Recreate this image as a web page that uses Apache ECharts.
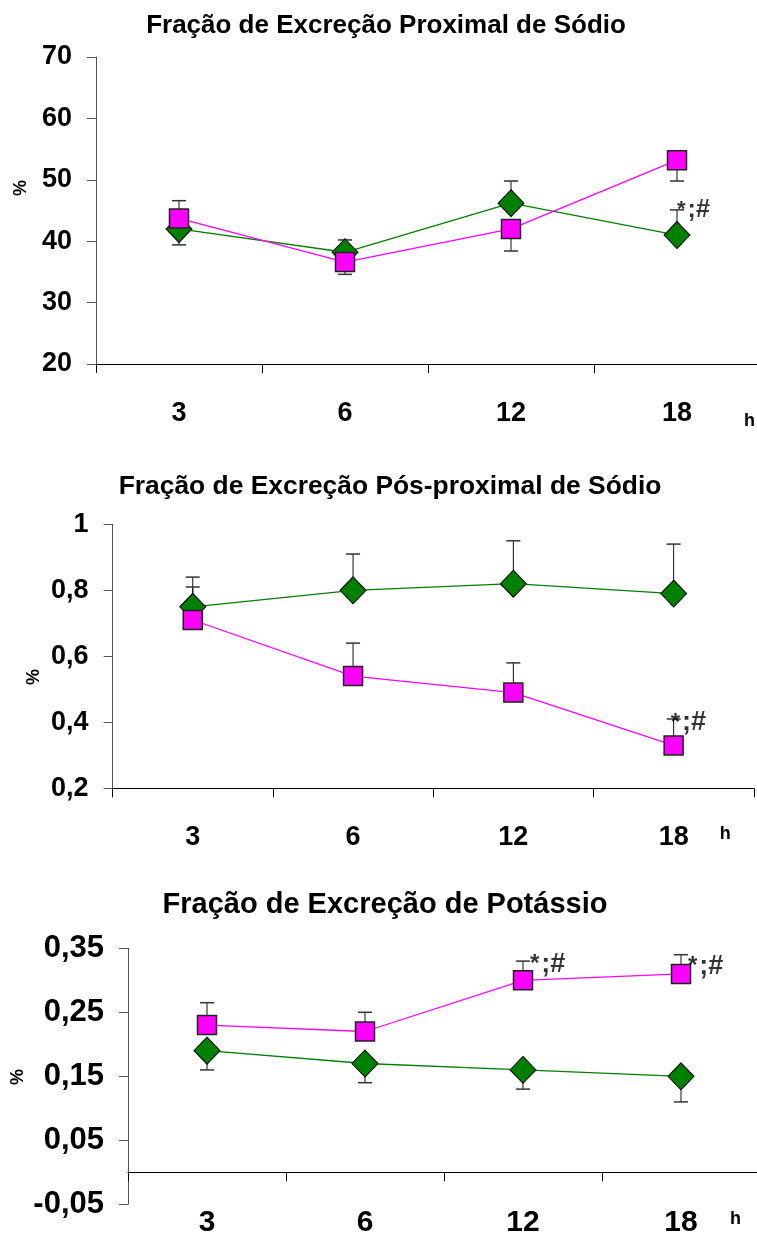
<!DOCTYPE html>
<html>
<head>
<meta charset="utf-8">
<script src="https://cdn.jsdelivr.net/npm/echarts@6/dist/echarts.min.js"></script>
<style>
html,body{margin:0;padding:0;background:#fff;}
#c{width:757px;height:1234px;}
</style>
</head>
<body>
<div id="c"></div>
<script>
// ---- data ----
const categories = ['3', '6', '12', '18'];

// Chart 1: Fração de Excreção Proximal de Sódio
const proxGreen = [42.0, 38.2, 46.2, 41.0];
const proxPink = [43.7, 36.6, 42.0, 53.2];
const proxGreenErr = [39.4, 40.2, 49.8, 45.1];
const proxPinkErr = [46.6, 34.6, 38.4, 49.8];
const proxAnnot = [['18', 45.1]];

// Chart 2: Fração de Excreção Pós-proximal de Sódio
const posGreen = [0.75, 0.80, 0.82, 0.79];
const posPink = [0.71, 0.54, 0.49, 0.33];
const posGreenErr = [0.84, 0.91, 0.95, 0.94];
const posPinkErr = [0.81, 0.64, 0.58, 0.41];
const posAnnot = [['18', 0.398]];

// Chart 3: Fração de Excreção de Potássio
const kGreen = [0.19, 0.17, 0.16, 0.15];
const kPink = [0.23, 0.22, 0.30, 0.31];
const kGreenErr = [0.16, 0.14, 0.13, 0.11];
const kPinkErr = [0.265, 0.25, 0.33, 0.34];
const kAnnot = [['12', 0.325], ['18', 0.322]];
const kTicks = [-0.05, 0.05, 0.15, 0.25, 0.35];

const titles = ['Fração de Excreção Proximal de Sódio', 'Fração de Excreção Pós-proximal de Sódio', 'Fração de Excreção de Potássio'];
const annotStar = '*';
const annotRest = ';#';
const unitY = '%';
const unitX = 'h';

// ---- styling ----
const FF = '"Liberation Sans", Arial, sans-serif';
const GREEN = '#008000';
const PINK = '#FF00FF';

const chart = echarts.init(document.getElementById('c'), null, {renderer: 'canvas'});

function errSeries(gi, vals, errs, name) {
  return {
    type: 'custom', name: name, xAxisIndex: gi, yAxisIndex: gi, z: 1, silent: true,
    data: vals.map((v, i) => [i, v, errs[i]]),
    encode: {x: 0, y: [1, 2]},
    renderItem: function (params, api) {
      const p = api.coord([api.value(0), api.value(1)]);
      const e = api.coord([api.value(0), api.value(2)]);
      return {
        type: 'group',
        children: [
          {type: 'line', shape: {x1: p[0], y1: p[1], x2: e[0], y2: e[1]}, style: {stroke: '#111', lineWidth: 1}},
          {type: 'line', shape: {x1: e[0] - 7, y1: e[1], x2: e[0] + 7, y2: e[1]}, style: {stroke: '#333', lineWidth: 1.5}}
        ]
      };
    }
  };
}
function greenSeries(gi, vals) {
  return {
    type: 'line', xAxisIndex: gi, yAxisIndex: gi, z: 2, data: vals,
    symbol: 'diamond', symbolSize: [26, 27],
    itemStyle: {color: GREEN, borderColor: '#000', borderWidth: 1},
    lineStyle: {color: GREEN, width: 1.3}
  };
}
function pinkSeries(gi, vals) {
  return {
    type: 'line', xAxisIndex: gi, yAxisIndex: gi, z: 3, data: vals,
    symbol: 'rect', symbolSize: 19,
    itemStyle: {color: PINK, borderColor: '#222', borderWidth: 1.5},
    lineStyle: {color: PINK, width: 1.3}
  };
}
function annotSeries(gi, pts, dx, fs) {
  return {
    type: 'scatter', xAxisIndex: gi, yAxisIndex: gi, z: 5, data: pts,
    symbolSize: 1, itemStyle: {color: 'rgba(0,0,0,0)'}, silent: true,
    label: {
      show: true, position: 'inside', align: 'left', verticalAlign: 'middle', offset: [dx, 0],
      formatter: '{s|' + annotStar + '}{r|' + annotRest + '}',
      rich: {
        s: {fontFamily: FF, fontWeight: 'bold', fontSize: fs, color: '#000', padding: [0, 2, 0, 0]},
        r: {fontFamily: FF, fontWeight: 'bold', fontSize: fs + 3, color: '#000'}
      }
    }
  };
}

const grids = [
  {left: 96, top: 57, width: 664, height: 307, outerBoundsMode: 'none', containLabel: false},
  {left: 112.6, top: 524.3, width: 641.2, height: 264, outerBoundsMode: 'none', containLabel: false},
  {left: 128, top: 948.3, width: 632, height: 256, outerBoundsMode: 'none', containLabel: false}
];

function xAxis(gi, margin, nameGap, namePad, fs, lh) {
  return {
    type: 'category', gridIndex: gi, data: categories, boundaryGap: true,
    axisLine: {show: true, onZero: true, lineStyle: {color: '#000', width: 1}},
    axisTick: {show: true, length: 9, inside: false, lineStyle: {color: '#000'}},
    axisLabel: {margin: margin, fontFamily: FF, fontWeight: 'bold', fontSize: fs, lineHeight: lh, color: '#000', interval: 0, hideOverlap: false},
    splitLine: {show: false},
    name: unitX, nameLocation: 'end', nameGap: nameGap, nameMoveOverlap: false,
    nameTextStyle: {fontFamily: FF, fontWeight: 'bold', fontSize: 18, color: '#000', align: 'left', verticalAlign: 'top', padding: [namePad, 0, 0, 0]}
  };
}
const yBase = {
  type: 'value',
  axisLine: {show: true, lineStyle: {color: '#555', width: 1}},
  axisTick: {show: true, length: 9, inside: false, lineStyle: {color: '#555'}},
  splitLine: {show: false}
};
function yLabel(fs) {
  return {margin: 24, fontFamily: FF, fontWeight: 'bold', fontSize: fs, color: '#000'};
}

const option = {
  animation: false,
  backgroundColor: '#fff',
  title: [
    {text: titles[0], left: 381, top: 8, textAlign: 'center', textStyle: {fontFamily: FF, fontWeight: 'bold', fontSize: 26, color: '#000'}},
    {text: titles[1], left: 385, top: 469, textAlign: 'center', textStyle: {fontFamily: FF, fontWeight: 'bold', fontSize: 26.4, color: '#000'}},
    {text: titles[2], left: 380, top: 885, textAlign: 'center', textStyle: {fontFamily: FF, fontWeight: 'bold', fontSize: 29, color: '#000'}}
  ],
  grid: grids,
  xAxis: [
    xAxis(0, 35, -16, 48, 27, 30),
    xAxis(1, 34, -34, 37, 27, 30),
    xAxis(2, 3, -30, 38, 30, 30)
  ],
  yAxis: [
    Object.assign({}, yBase, {gridIndex: 0, min: 20, max: 70, interval: 10,
      axisLabel: Object.assign(yLabel(27), {formatter: v => String(v)})}),
    Object.assign({}, yBase, {gridIndex: 1, min: 0.2, max: 1, interval: 0.2,
      axisLabel: Object.assign(yLabel(27), {formatter: v => (Math.abs(v - 1) < 1e-9 ? '1' : v.toFixed(1).replace('.', ','))})}),
    Object.assign({}, yBase, {gridIndex: 2, min: -0.05, max: 0.35,
      axisTick: Object.assign({}, yBase.axisTick, {customValues: kTicks}),
      axisLabel: Object.assign(yLabel(31), {customValues: kTicks, formatter: v => v.toFixed(2).replace('.', ',')})})
  ],
  graphic: [
    {type: 'text', x: 21, y: 188, rotation: Math.PI / 2, style: {text: unitY, font: 'bold 18px ' + FF, fill: '#000', align: 'center', verticalAlign: 'middle'}},
    {type: 'text', x: 34, y: 677, rotation: Math.PI / 2, style: {text: unitY, font: 'bold 18px ' + FF, fill: '#000', align: 'center', verticalAlign: 'middle'}},
    {type: 'text', x: 18, y: 1077, rotation: Math.PI / 2, style: {text: unitY, font: 'bold 18px ' + FF, fill: '#000', align: 'center', verticalAlign: 'middle'}}
  ],
  series: [
    errSeries(0, proxGreen, proxGreenErr, 'gErr1'),
    errSeries(0, proxPink, proxPinkErr, 'pErr1'),
    greenSeries(0, proxGreen),
    pinkSeries(0, proxPink),
    annotSeries(0, proxAnnot, 0, 22),

    errSeries(1, posGreen, posGreenErr, 'gErr2'),
    errSeries(1, posPink, posPinkErr, 'pErr2'),
    greenSeries(1, posGreen),
    pinkSeries(1, posPink),
    annotSeries(1, posAnnot, -3, 24),

    errSeries(2, kGreen, kGreenErr, 'gErr3'),
    errSeries(2, kPink, kPinkErr, 'pErr3'),
    greenSeries(2, kGreen),
    pinkSeries(2, kPink),
    annotSeries(2, kAnnot, 7, 24)
  ]
};
chart.setOption(option);
</script>
</body>
</html>
